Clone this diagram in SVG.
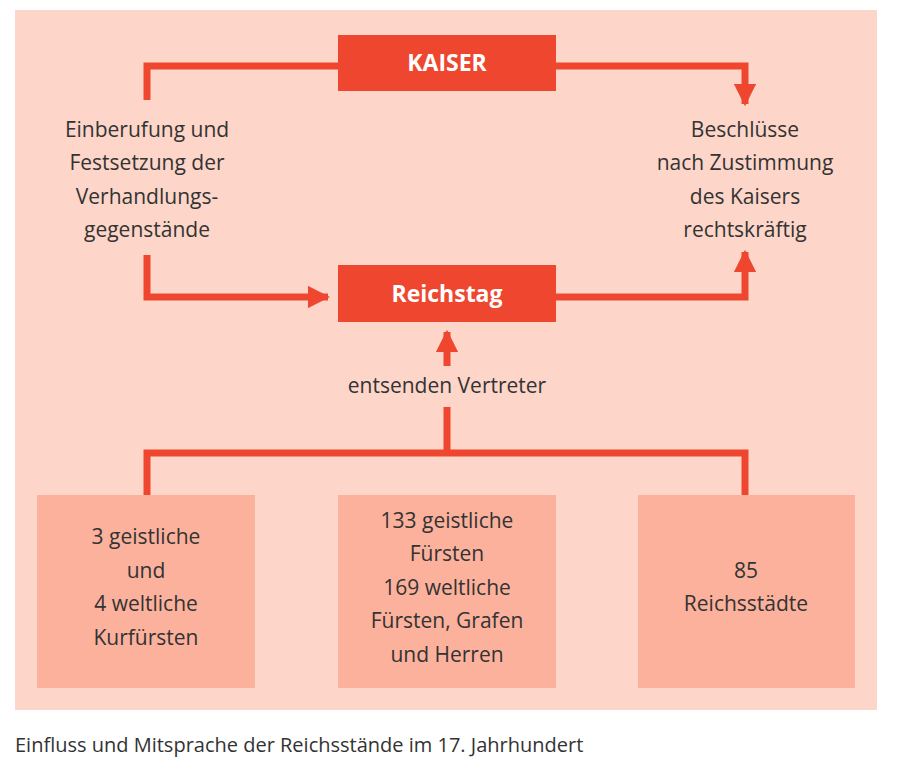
<svg xmlns="http://www.w3.org/2000/svg" width="900" height="758" viewBox="0 0 900 758">
<defs>
<style>
.t{font-family:"Open Sans","Noto Sans",sans-serif;font-size:21px;fill:#333;text-anchor:middle}
.w{font-family:"Open Sans","Noto Sans",sans-serif;font-size:23px;font-weight:bold;fill:#fff;text-anchor:middle}
.c{fill:none;stroke:#ef4630;stroke-width:7}
.top{fill:#ef4630}
.bot{fill:#fcb19c}
</style>
<marker id="a" viewBox="0 0 10 10" refX="9" refY="5" markerWidth="3.2" markerHeight="3.2" orient="auto" markerUnits="strokeWidth"><path d="M0,0L10,5L0,10z" fill="#ef4630"/></marker>
</defs>
<rect x="0" y="0" width="900" height="758" fill="#fff"/>
<rect x="15" y="10" width="862" height="700" fill="#fdd6c9"/>
<g id="connectors">
<path class="c" d="M338,66H147V100"/>
<path class="c" d="M147,255V297H328" marker-end="url(#a)"/>
<path class="c" d="M556,66H745V104" marker-end="url(#a)"/>
<path class="c" d="M556,297H745V252" marker-end="url(#a)"/>
<path class="c" d="M447,366V332" marker-end="url(#a)"/>
<path class="c" d="M447,407V453"/>
<path class="c" d="M147,495V453H745V495"/>
</g>
<g id="kaiser"><rect class="top" x="338" y="35" width="218" height="56"/><text class="w" x="447" y="71">KAISER</text></g>
<g id="reichstag"><rect class="top" x="338" y="265" width="218" height="57"/><text class="w" x="447" y="302">Reichstag</text></g>
<g id="left-label"><text class="t" x="147" y="137">Einberufung und</text><text class="t" x="147" y="170">Festsetzung der</text><text class="t" x="147" y="204">Verhandlungs-</text><text class="t" x="147" y="237">gegenstände</text></g>
<g id="right-label"><text class="t" x="745" y="137">Beschlüsse</text><text class="t" x="745" y="170">nach Zustimmung</text><text class="t" x="745" y="204">des Kaisers</text><text class="t" x="745" y="237">rechtskräftig</text></g>
<g id="mid-label"><text class="t" x="447" y="393">entsenden Vertreter</text></g>
<g id="kurfuersten"><rect class="bot" x="37" y="495" width="218" height="193"/><text class="t" x="146" y="544">3 geistliche</text><text class="t" x="146" y="578">und</text><text class="t" x="146" y="611">4 weltliche</text><text class="t" x="146" y="645">Kurfürsten</text></g>
<g id="fuersten"><rect class="bot" x="338" y="495" width="218" height="193"/><text class="t" x="447" y="528">133 geistliche</text><text class="t" x="447" y="561">Fürsten</text><text class="t" x="447" y="595">169 weltliche</text><text class="t" x="447" y="628">Fürsten, Grafen</text><text class="t" x="447" y="662">und Herren</text></g>
<g id="staedte"><rect class="bot" x="638" y="495" width="217" height="193"/><text class="t" x="746" y="578">85</text><text class="t" x="746" y="611">Reichsstädte</text></g>
<text x="15" y="752" style="font-family:'Open Sans','Noto Sans',sans-serif;font-size:20px;fill:#333">Einfluss und Mitsprache der Reichsstände im 17. Jahrhundert</text>
</svg>
